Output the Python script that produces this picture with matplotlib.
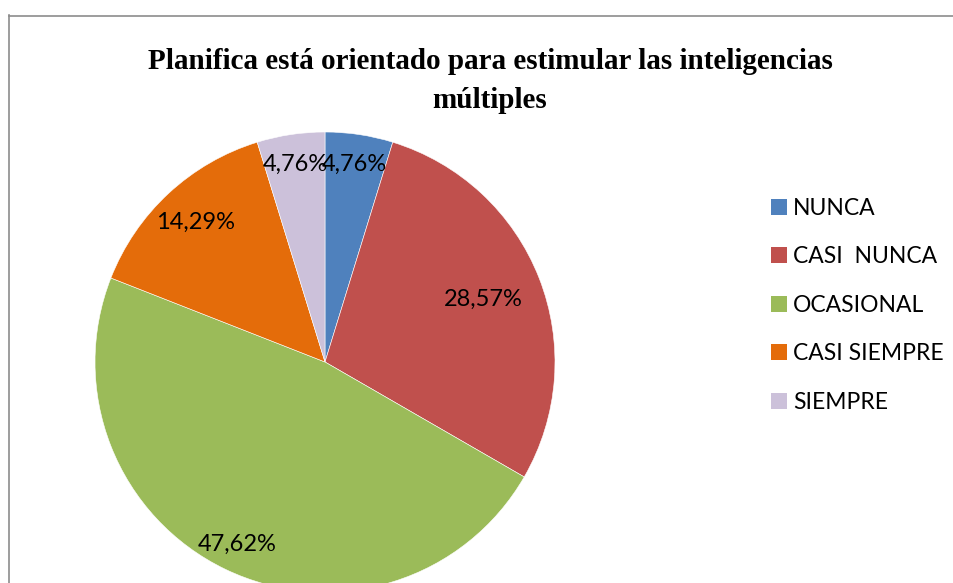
import numpy as np
import matplotlib
matplotlib.use("Agg")
import matplotlib.pyplot as plt
from matplotlib.lines import Line2D
from matplotlib.patches import Patch

categories = ["NUNCA", "CASI  NUNCA", "OCASIONAL", "CASI SIEMPRE", "SIEMPRE"]
values = [4.76, 28.57, 47.62, 14.29, 4.76]
value_labels = ["4,76%", "28,57%", "47,62%", "14,29%", "4,76%"]
title = "Planifica está orientado para estimular las inteligencias\nmúltiples"

colors = ["#4F81BD", "#C0504D", "#9BBB59", "#E46C0A", "#CCC1DA"]
label_dist = [0.87, 0.74, 0.88, 0.83, 0.87]

W, H = 954, 583
fig = plt.figure(figsize=(W / 100, H / 100), dpi=100)
fig.patch.set_facecolor("white")

# pie axes: center (325, 362) px from top, radius 230 px
cx, cy, r = 325, H - 362, 230
ax = fig.add_axes([(cx - r) / W, (cy - r) / H, 2 * r / W, 2 * r / H])
wedges, _ = ax.pie(values, colors=colors, startangle=90, counterclock=False,
                   wedgeprops=dict(edgecolor="white", linewidth=0.4))
ax.set_xlim(-1, 1)
ax.set_ylim(-1, 1)
ax.set_aspect("equal")
ax.axis("off")

for w, lab, d in zip(wedges, value_labels, label_dist):
    ang = np.deg2rad((w.theta1 + w.theta2) / 2)
    ax.text(d * np.cos(ang), d * np.sin(ang), lab, ha="center", va="center",
            fontsize=17, family="Lato", color="black")

fig.text(490 / W, 1 - 81 / H, title, ha="center", va="center",
         fontsize=21, family="Liberation Serif", fontweight="bold",
         linespacing=1.55)

handles = [Patch(facecolor=c, edgecolor="none") for c in colors]
leg = fig.legend(handles, categories, loc="upper left",
                 bbox_to_anchor=(771 / W, 1 - 198 / H), frameon=False,
                 prop=dict(family="Lato", size=16.5), handlelength=0.7,
                 handleheight=0.7, handletextpad=0.25, labelspacing=1.2,
                 borderaxespad=0, borderpad=0)

# chart border (left and top visible)
fig.add_artist(Line2D([9.5 / W, 9.5 / W], [0, 1 - 15 / H], transform=fig.transFigure,
                      color="#8C8C8C", linewidth=1.2))
fig.add_artist(Line2D([9 / W, 1], [1 - 15.5 / H, 1 - 15.5 / H], transform=fig.transFigure,
                      color="#8C8C8C", linewidth=1.2))

fig.savefig("out.png", dpi=100, facecolor="white")
